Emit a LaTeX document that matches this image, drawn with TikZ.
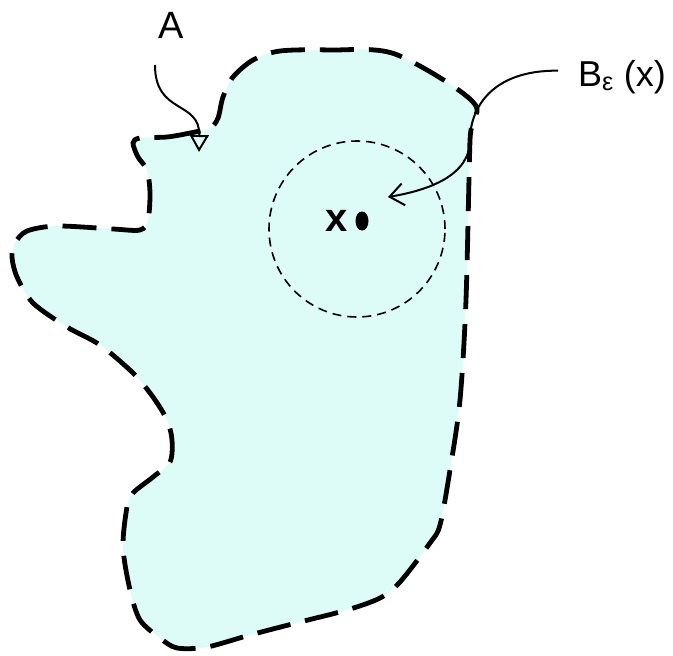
\documentclass[tikz,border=0pt]{standalone}
\usepackage{fontspec}
\setmainfont{Liberation Sans}
\usepackage{xcolor}
\usetikzlibrary{arrows.meta,positioning,shapes.geometric}
\definecolor{setfill}{RGB}{221,252,248}

\begin{document}
\begin{tikzpicture}[
  x=1pt, y=-1pt,
  boundary/.style={line width=4.8pt, dash pattern=on 34pt off 15pt, fill=setfill},
  ball/.style={draw, circle, line width=1.6pt, dash pattern=on 9pt off 6pt, minimum size=176pt, inner sep=0pt},
  lbl/.style={font=\fontsize{36}{40}\selectfont, inner sep=0pt},
  pointer/.style={line width=2pt},
  dotx/.style={ellipse, fill, inner sep=0pt, minimum width=13pt, minimum height=19pt},
]
  \useasboundingbox (0,0) rectangle (673,656);

  % ---------------- the set A ----------------
  \draw[boundary] plot[smooth cycle, tension=0.5] coordinates {
    (140,138) (167,137) (190,133) (210,128) (218,118) (223,97) (233,77)
    (253,60) (280,51) (330,50) (395,54) (473,102) (470,140) (466,300)
    (460,400) (450,470) (440,525) (430,543) (400,582) (380,598) (347,610)
    (300,622) (250,635) (207,647) (177,648) (160,638) (140,620) (130,590)
    (123,547) (127,507) (133,493) (153,477) (170,462) (172,440) (167,420)
    (153,397) (133,373) (100,345) (67,327) (33,303) (17,277) (12,257)
    (15,243) (27,231) (57,226) (113,229) (140,230) (148,220) (150,193)
    (147,170) (138,157) (133,143)};

  % ---------------- ball round x ----------------
  \node[ball] (nbhd) at (357,229) {};
  \node[dotx] (ptx) at (362,221) {};
  \node[lbl, font=\fontsize{40}{44}\selectfont\bfseries, left=7pt of ptx] (xlbl) {x};

  % ---------------- labels ----------------
  \node[lbl, font=\fontsize{38}{42}\selectfont] (labelA) at (171,25) {A};
  \node[lbl, anchor=base west] (labelB) at (578,86) {B\textsubscript{ε} (x)};

  \coordinate (tailA) at (155,65);
  \coordinate (tipA) at (199,152);
  \coordinate (bendB) at (470,140);
  \coordinate (tipB) at (388,197);

  \draw[pointer, -{Triangle[open, length=17pt, width=19pt]}]
    (tailA) .. controls (155,115) and (200,100) .. (tipA);
  \draw[pointer, -{Straight Barb[length=14pt, width=22pt]}]
    ([xshift=-20pt, yshift=6pt]labelB.west) .. controls (490,70) and (470,110) .. (bendB)
    .. controls (470,175) and (430,190) .. (tipB);
\end{tikzpicture}
\end{document}
